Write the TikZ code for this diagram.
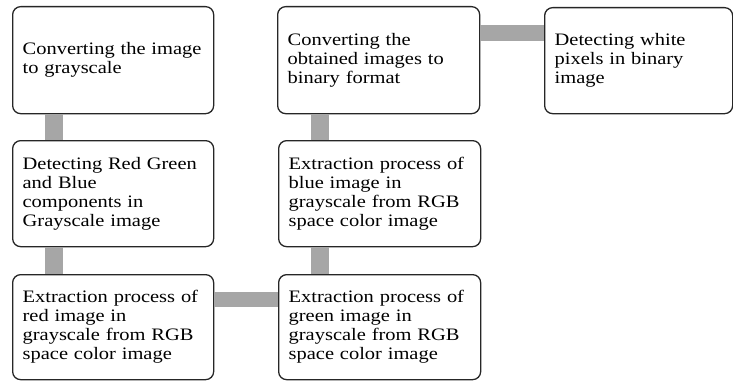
\documentclass[tikz,border=0pt]{standalone}
\usepackage{fontspec}
\setmainfont{Liberation Serif}[FakeStretch=1.17]
\begin{document}
\begin{tikzpicture}[x=1pt,y=1pt,
  box/.style={draw=black!85, line width=1.3pt, fill=white, rounded corners=8pt,
    align=left, inner xsep=10pt, inner ysep=0pt, anchor=north west,
    font=\fontsize{17.5}{19}\selectfont},
  conn/.style={draw=black!35, line width=16pt}]
\useasboundingbox (0,0) rectangle (733,381);
% boxes: y measured from top -> 381 - y
\node[box, text width=181pt, minimum width=201pt, minimum height=107pt] (b1) at (12,375) {Converting the image\\to grayscale};
\node[box, text width=181pt, minimum width=201pt, minimum height=106pt] (b2) at (12,241) {Detecting Red Green\\and Blue\\components in\\Grayscale image};
\node[box, text width=181pt, minimum width=201pt, minimum height=105pt] (b3) at (12,107) {Extraction process of\\red image in\\grayscale from RGB\\space color image};
\node[box, text width=182pt, minimum width=202pt, minimum height=105pt] (b4) at (278,107) {Extraction process of\\green image in\\grayscale from RGB\\space color image};
\node[box, text width=182pt, minimum width=202pt, minimum height=106pt] (b5) at (278,241) {Extraction process of\\blue image in\\grayscale from RGB\\space color image};
\node[box, text width=182pt, minimum width=202pt, minimum height=107pt] (b6) at (277,375) {Converting the\\obtained images to\\binary format};
\node[box, text width=168pt, minimum width=188pt, minimum height=106pt] (b7) at (544,374) {Detecting white\\pixels in binary\\image};
% connectors
\draw[conn, line width=18pt] ([xshift=-59.5pt]b1.south) -- ([xshift=-59.5pt]b1.south |- b2.north);
\draw[conn, line width=18pt] ([xshift=-59.5pt]b2.south) -- ([xshift=-59.5pt]b2.south |- b3.north);
\draw[conn, line width=15pt] ([yshift=28pt]b3.east) -- ([yshift=28pt]b3.east -| b4.west);
\draw[conn, line width=18pt] ([xshift=-60pt]b4.north) -- ([xshift=-60pt]b4.north |- b5.south);
\draw[conn, line width=18pt] ([xshift=-60pt]b5.north) -- ([xshift=-60pt]b5.north |- b6.south);
\draw[conn, line width=16pt] ([yshift=27pt]b6.east) -- ([yshift=27pt]b6.east -| b7.west);
\end{tikzpicture}
\end{document}
